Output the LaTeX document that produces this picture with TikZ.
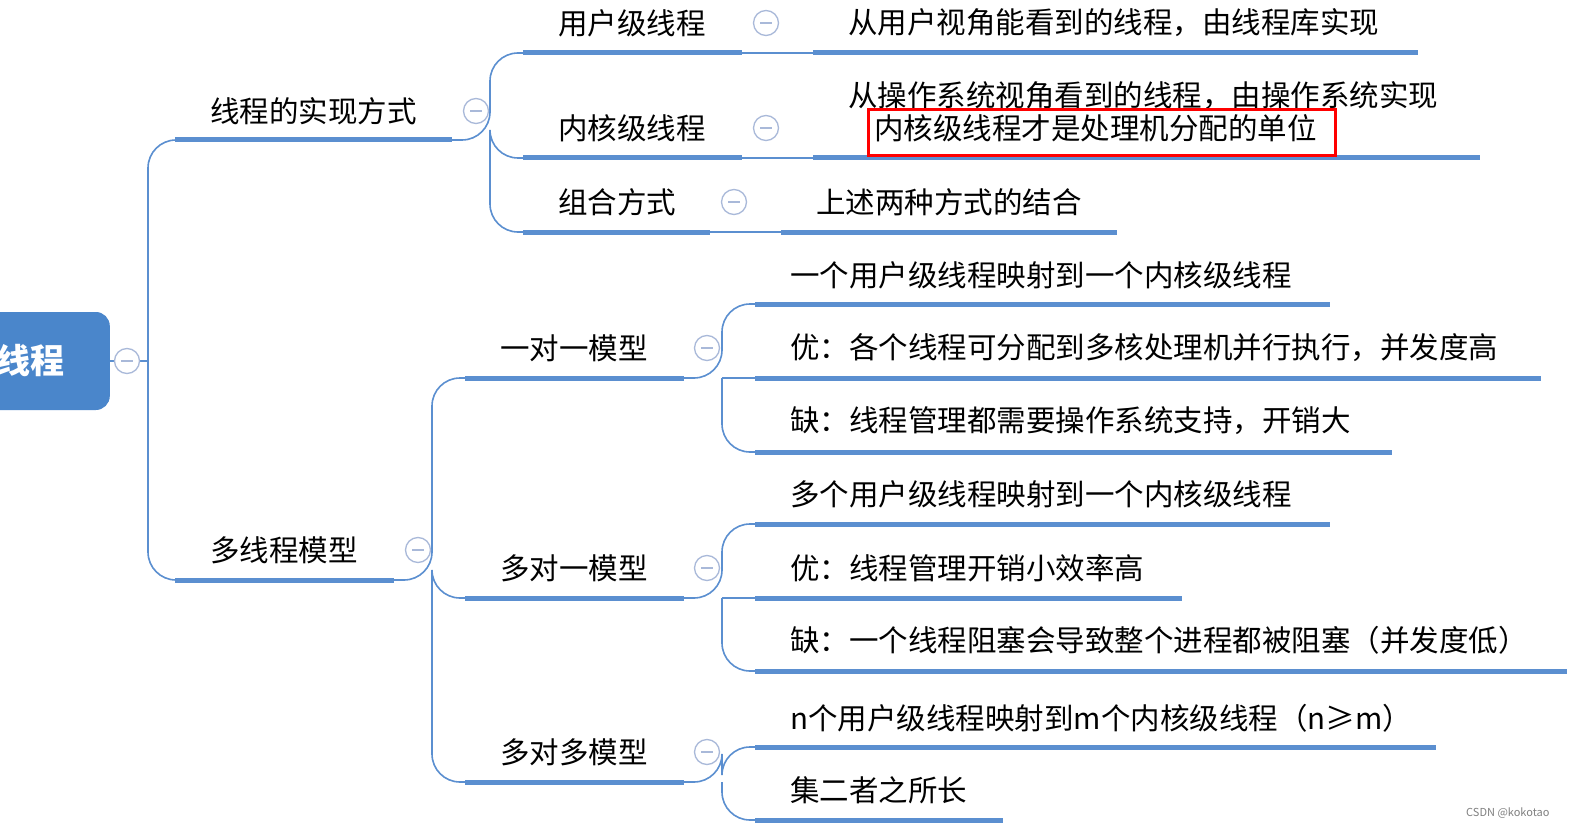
\documentclass[tikz,border=0pt]{standalone}
\usepackage{fontspec}
\setmainfont{Noto Sans CJK SC}
\definecolor{lb}{HTML}{5B8FD0}
\definecolor{rootc}{HTML}{4A86CB}
\definecolor{cc}{HTML}{A9B9D9}
\begin{document}
\begin{tikzpicture}[x=1pt,y=-1pt,
  bar/.style={lb,line width=5pt},
  ln/.style={lb,line width=1.6pt,rounded corners=28pt},
  txt/.style={anchor=west,font=\fontsize{29.5}{31}\selectfont,inner sep=0pt},
  coll/.style={circle,draw=cc,line width=1.3pt,fill=white,minimum size=25pt,inner sep=0pt,
    path picture={\draw[cc,line width=1.3pt] ([xshift=-6pt]path picture bounding box.center)--([xshift=6pt]path picture bounding box.center);}}]
\useasboundingbox (0,0) rectangle (1587,837);
\fill[white] (0,0) rectangle (1587,837);
% root
\node[fill=rootc,rounded corners=14pt,minimum width=140pt,minimum height=98pt,anchor=east] (root) at (110,361) {};
\node[anchor=west,text=white,font=\fontsize{34}{36}\selectfont\bfseries,inner sep=0pt] (roott) at (-4,361) {线程};
\coordinate (rj) at (148,361);
\draw[ln] (root.east) -- (rj);
\node[coll] (c0) at (127,361) {};
% level 1 bars
\draw[bar] (175,140) -- (452,140) coordinate (b1e);
\draw[bar] (175,580) -- (394,580) coordinate (b2e);
\draw[ln] (rj) -- (148,140) -- (175,140);
\draw[ln] (rj) -- (148,580) -- (175,580);
\node[txt] (t1) at (210,111) {线程的实现方式};
\node[txt] (t2) at (210,550) {多线程模型};
% branch1
\draw[bar] (523,53) -- (742,53) coordinate (u1);
\draw[bar] (523,158) -- (742,158) coordinate (u2);
\draw[bar] (523,232) -- (710,232) coordinate (u3);
\draw[ln] (b1e) -- (490,140) -- (490,53) -- (523,53);
\draw[ln] (490,140) -- (490,232) -- (523,232);
\draw[ln] (490,140) -- (490,158) -- (523,158);
\node[coll] (c1) at (476,111) {};
\node[txt] at (558,23) {用户级线程};
\node[txt] at (558,128) {内核级线程};
\node[txt] at (558,202) {组合方式};
\draw[bar] (813,53) -- (1418,53);
\draw[bar] (813,158) -- (1480,158);
\draw[bar] (781,232) -- (1117,232);
\draw[lb,line width=1.6pt] (u1) -- (813,53);
\draw[lb,line width=1.6pt] (u2) -- (813,158);
\draw[lb,line width=1.6pt] (u3) -- (781,232);
\node[coll] at (766,23) {};
\node[coll] at (766,128) {};
\node[coll] at (734,202) {};
\node[txt] at (848,23) {从用户视角能看到的线程，由线程库实现};
\node[txt] at (848,96) {从操作系统视角看到的线程，由操作系统实现};
\node[txt] (red) at (874,128) {内核级线程才是处理机分配的单位};
\draw[red,line width=3pt] (868,110) rectangle (1335,156);
\node[txt] at (816,202) {上述两种方式的结合};
% branch2
\draw[bar] (465,378) -- (684,378) coordinate (m1);
\draw[bar] (465,598) -- (684,598) coordinate (m2);
\draw[bar] (465,782) -- (684,782) coordinate (m3);
\draw[ln] (b2e) -- (432,580) -- (432,378) -- (465,378);
\draw[ln] (432,580) -- (432,782) -- (465,782);
\draw[ln] (432,580) -- (432,598) -- (465,598);
\node[coll] at (418,550) {};
\node[txt] at (500,348) {一对一模型};
\node[txt] at (500,568) {多对一模型};
\node[txt] at (500,752) {多对多模型};
% grandchildren
\foreach \y/\e in {304/1330,378/1541,452/1392,524/1330,598/1182,671/1567,747/1436,820/1003}
  \draw[bar] (755,\y) -- (\e,\y);
\draw[ln] (m1) -- (722,378) -- (722,304) -- (755,304);
\draw[ln] (722,378) -- (722,452) -- (755,452);
\draw[ln] (722,378) -- (755,378);
\draw[ln] (m2) -- (722,598) -- (722,524) -- (755,524);
\draw[ln] (722,598) -- (722,671) -- (755,671);
\draw[ln] (722,598) -- (755,598);
\draw[ln] (m3) -- (722,782) -- (722,747) -- (755,747);
\draw[ln] (722,782) -- (722,820) -- (755,820);
\node[coll] at (707,348) {};
\node[coll] at (707,568) {};
\node[coll] at (707,752) {};
\node[txt] at (790,275) {一个用户级线程映射到一个内核级线程};
\node[txt] at (790,348) {优：各个线程可分配到多核处理机并行执行，并发度高};
\node[txt] at (790,421) {缺：线程管理都需要操作系统支持，开销大};
\node[txt] at (790,494) {多个用户级线程映射到一个内核级线程};
\node[txt] at (790,568) {优：线程管理开销小效率高};
\node[txt] at (790,640) {缺：一个线程阻塞会导致整个进程都被阻塞（并发度低）};
\node[txt] at (790,718) {n个用户级线程映射到m个内核级线程（n≥m）};
\node[txt] at (790,790) {集二者之所长};
\node[anchor=east,font=\fontsize{11}{12}\selectfont,text=gray] at (1553,813) {CSDN @kokotao};
\end{tikzpicture}
\end{document}
